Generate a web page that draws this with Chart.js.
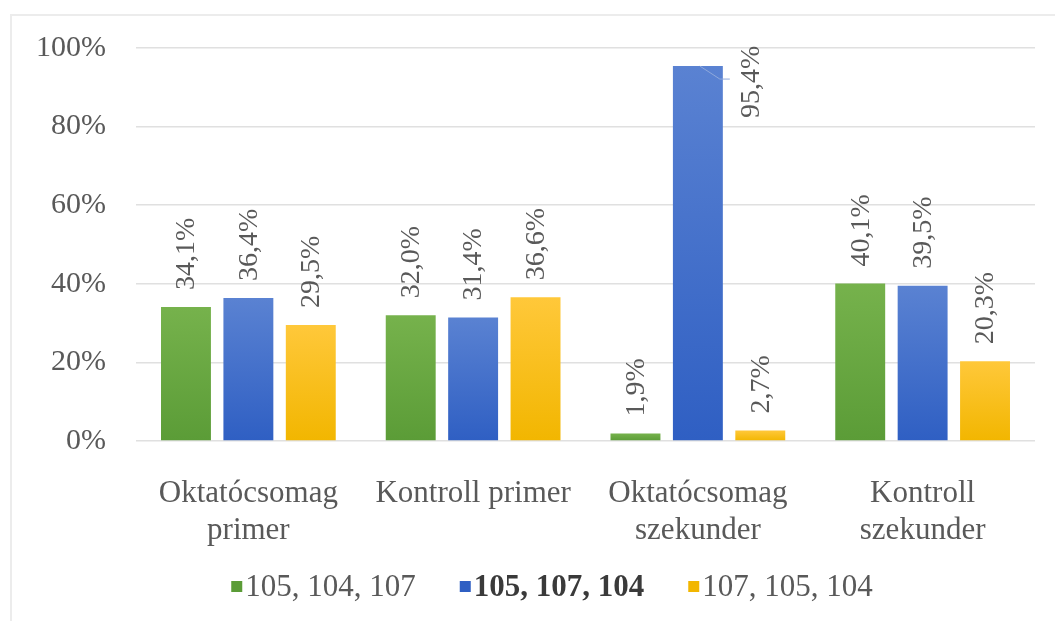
<!DOCTYPE html>
<html>
<head>
<meta charset="utf-8">
<script src="https://cdn.jsdelivr.net/npm/chart.js@4.4.1/dist/chart.umd.min.js"></script>
<style>
  html, body { margin: 0; padding: 0; background: #ffffff; }
</style>
</head>
<body>
<canvas id="chart" width="1055" height="621"></canvas>
<script>
// Sorrend-válaszok megoszlása csoportonként
const categories = [
    ['Oktatócsomag', 'primer'],
    'Kontroll primer',
    ['Oktatócsomag', 'szekunder'],
    ['Kontroll', 'szekunder']
];
const seriesNames = ['105, 104, 107', '105, 107, 104', '107, 105, 104'];
const seriesA = [34.1, 32.0, 1.9, 40.1];
const seriesB = [36.4, 31.4, 95.4, 39.5];
const seriesC = [29.5, 36.6, 2.7, 20.3];
const yTicks = [0, 20, 40, 60, 80, 100];

const TEXT = '#595959';
const SERIF = "Tinos, 'Liberation Serif', 'Times New Roman', serif";

// top / bottom colours of the gradient fill per series
const fills = [
    ['#76b24c', '#5b9c37'],
    ['#5a82d2', '#2f5fc3'],
    ['#ffc83a', '#f2b600']
];

function gradientFill(idx) {
    return function (ctx) {
        const chart = ctx.chart;
        if (!chart.chartArea || ctx.type !== 'data') return fills[idx][1];
        const y = chart.scales.y;
        const top = y.getPixelForValue(ctx.raw);
        const bottom = y.getPixelForValue(0);
        const g = chart.ctx.createLinearGradient(0, top, 0, bottom);
        g.addColorStop(0, fills[idx][0]);
        g.addColorStop(1, fills[idx][1]);
        return g;
    };
}

function fmt(v) {
    return v.toFixed(1).replace('.', ',') + '%';
}

// light frame around the chart
const framePlugin = {
    id: 'frame',
    beforeDraw(chart) {
        const c = chart.ctx;
        c.save();
        c.fillStyle = '#ffffff';
        c.fillRect(0, 0, chart.width, chart.height);
        c.strokeStyle = '#ececec';
        c.lineWidth = 2;
        c.beginPath();
        c.moveTo(11, chart.height);
        c.lineTo(11, 15);
        c.lineTo(chart.width, 15);
        c.stroke();
        c.restore();
    }
};

// rotated value labels above each bar
const valueLabels = {
    id: 'valueLabels',
    afterDatasetsDraw(chart) {
        const c = chart.ctx;
        c.save();
        c.font = '28px ' + SERIF;
        c.fillStyle = TEXT;
        c.textBaseline = 'middle';
        c.textAlign = 'left';
        chart.data.datasets.forEach((ds, di) => {
            chart.getDatasetMeta(di).data.forEach((bar, i) => {
                const text = fmt(ds.data[i]);
                const w = c.measureText(text).width;
                let x = bar.x + 1;
                let y = bar.y - 17;
                if (y - w < 20) {
                    // no room above: put it beside the bar with a leader line
                    x = bar.x + bar.width + 4;
                    y = bar.y + 52;
                    c.save();
                    c.strokeStyle = '#8fa9dc';
                    c.lineWidth = 1;
                    c.beginPath();
                    c.moveTo(bar.x + 2, bar.y);
                    c.lineTo(bar.x + bar.width / 2 - 3, bar.y + 13);
                    c.lineTo(bar.x + bar.width / 2 + 7, bar.y + 13);
                    c.stroke();
                    c.restore();
                }
                c.save();
                c.translate(x, y);
                c.rotate(-Math.PI / 2);
                c.fillText(text, 0, 0);
                c.restore();
            });
        });
        c.restore();
    }
};

// legend row under the axis labels, middle entry in bold
const legendRow = {
    id: 'legendRow',
    afterDraw(chart) {
        const c = chart.ctx;
        const box = 11, gapBox = 3, gapItem = 44;
        const cy = 587;
        const items = seriesNames.map((name, i) => {
            const font = (i === 1 ? 'bold ' : '') + '31px ' + SERIF;
            c.font = font;
            return { name, font, w: c.measureText(name).width };
        });
        const total = items.reduce((s, it) => s + box + gapBox + it.w, 0) + gapItem * (items.length - 1);
        let x = 552 - total / 2;
        c.save();
        c.textBaseline = 'middle';
        c.textAlign = 'left';
        items.forEach((it, i) => {
            c.fillStyle = fills[i][1];
            c.fillRect(x, cy - 6, box, box);
            x += box + gapBox;
            c.font = it.font;
            c.fillStyle = i === 1 ? '#3a3a3a' : TEXT;
            c.fillText(it.name, x, cy + 1);
            x += it.w + gapItem;
        });
        c.restore();
    }
};

new Chart(document.getElementById('chart'), {
    type: 'bar',
    data: {
        labels: categories,
        datasets: [
            { label: seriesNames[0], data: seriesA, backgroundColor: gradientFill(0) },
            { label: seriesNames[1], data: seriesB, backgroundColor: gradientFill(1) },
            { label: seriesNames[2], data: seriesC, backgroundColor: gradientFill(2) }
        ]
    },
    options: {
        responsive: false,
        animation: false,
        categoryPercentage: 0.833,
        barPercentage: 0.8,
        layout: { padding: { top: 48, right: 20, bottom: 0, left: 0 } },
        plugins: {
            legend: { display: false },
            tooltip: { enabled: false }
        },
        scales: {
            y: {
                min: 0,
                max: 100,
                afterBuildTicks(scale) {
                    scale.ticks = yTicks.map(v => ({ value: v }));
                },
                afterFit(scale) { scale.width = 136; },
                border: { display: false },
                grid: { color: '#e0e0e0', lineWidth: 1.5, drawTicks: false },
                ticks: {
                    padding: 30,
                    color: TEXT,
                    font: { family: SERIF, size: 30 },
                    callback: v => v + '%'
                }
            },
            x: {
                afterFit(scale) { scale.height = 180; },
                border: { display: false },
                grid: { display: false },
                ticks: {
                    padding: 27,
                    color: TEXT,
                    maxRotation: 0,
                    font: { family: SERIF, size: 31, lineHeight: 1.18 }
                }
            }
        }
    },
    plugins: [framePlugin, valueLabels, legendRow]
});
</script>
</body>
</html>
